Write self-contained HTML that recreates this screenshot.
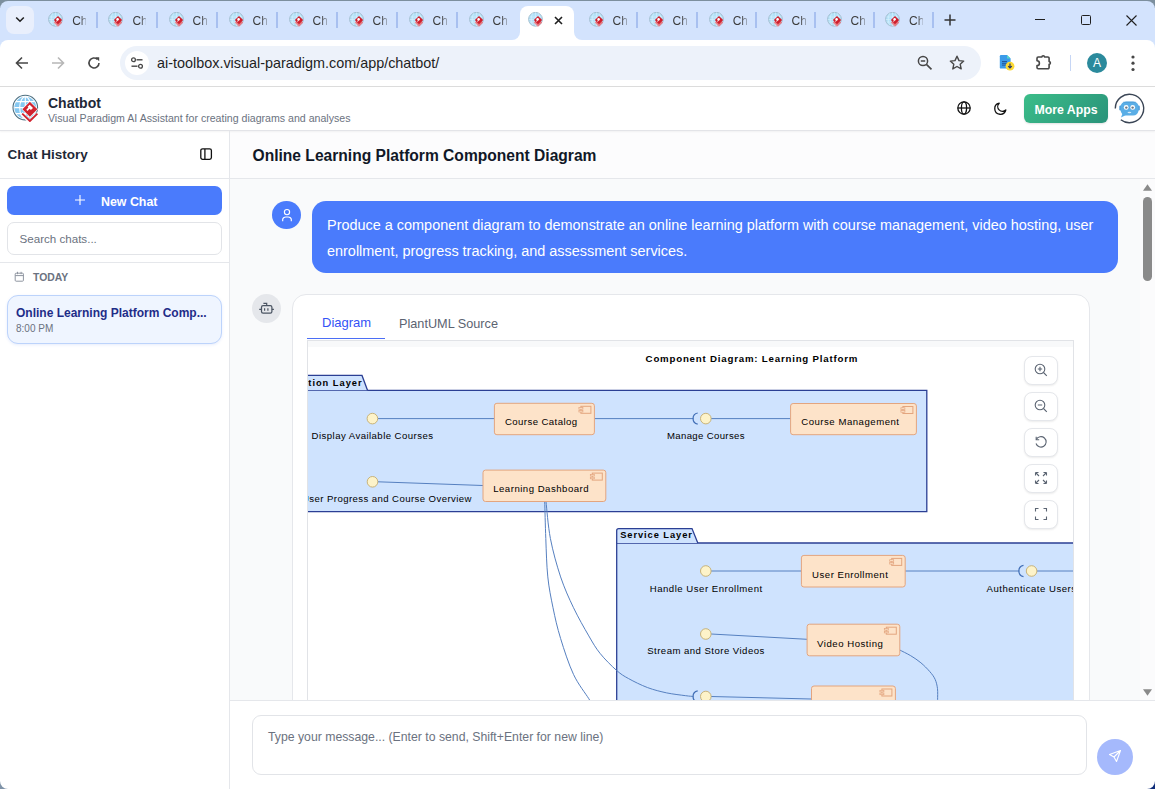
<!DOCTYPE html>
<html><head><meta charset="utf-8">
<style>
*{box-sizing:border-box;margin:0;padding:0}
html,body{width:1155px;height:789px;overflow:hidden}
body{position:relative;background:#d3e3fd;font-family:"Liberation Sans",sans-serif;color:#1f1f1f}
.a{position:absolute}
svg{display:block}
/* tabs */
.fav{position:absolute;top:12px;width:16px;height:16px}
.tt{position:absolute;top:14px;font-size:12px;color:#3c3c3c;line-height:14px;width:14px;overflow:hidden;white-space:nowrap;-webkit-mask-image:linear-gradient(90deg,#000 55%,rgba(0,0,0,0.35))}
.sep{position:absolute;top:12px;width:1.6px;height:15.5px;background:#a8c0f0}
</style></head>
<body>
<svg width="0" height="0" style="position:absolute">
 <defs>
  <symbol id="vp" viewBox="0 0 28 28">
   <circle cx="13.3" cy="13.6" r="12.3" fill="#fff" stroke="#4d6f80" stroke-width="1.1"/>
   <circle cx="13.3" cy="13.6" r="10.9" fill="#86c8f1"/>
   <path d="M2.4 13.6h21.8M4 7.6h18.6M4 19.6h18.6M13.3 2.7v21.8" stroke="#fff" stroke-width="1.1" fill="none"/>
   <ellipse cx="13.3" cy="13.6" rx="5.6" ry="10.9" stroke="#fff" stroke-width="1.1" fill="none"/>
   <path d="M17.9 6.9L26.2 15.2 17.9 23.5 9.6 15.2z" fill="#fff"/>
   <path d="M17.9 7.7L25.4 15.2 17.9 22.7 10.4 15.2z" fill="#d1232f"/>
   <path d="M9.4 19.4L17.9 27.6 26.1 19.4" stroke="#fff" stroke-width="3.6" fill="none"/>
   <path d="M10.2 19.6L17.9 27 25.4 19.6" stroke="#d1232f" stroke-width="1.9" fill="none"/>
   <path d="M17.7 10.7L21 14 18.9 16.1 17.6 14.8 15.5 16.9 14.3 15.7 16.4 13.6 15.6 12.8z" fill="#fff"/>
  </symbol>
 <symbol id="fv" viewBox="0 0 16 16">
   <circle cx="7.5" cy="7.3" r="6.9" fill="#b4e1f8" stroke="#9db9c9" stroke-width="0.9"/>
   <path d="M1.5 5h12M0.8 7.5h13.4M1.5 10h12M7.5 0.6v13.4M4.6 1.3c-1.8 3.3-1.8 8.7 0 12M10.4 1.3c1.8 3.3 1.8 8.7 0 12" stroke="#d9f1fd" stroke-width="0.6" fill="none"/>
   <path d="M5.8 10.6L10 14.8 14.2 10.6 10 6.4z" fill="#e47a84"/>
   <path d="M5.6 10.2L10 14.6" stroke="#f4c4c8" stroke-width="0.5"/>
   <path d="M10 3.9L14.2 8.1 10 12.3 5.8 8.1z" fill="#cf1f2d"/>
   <circle cx="9.6" cy="7.2" r="1.25" fill="#fff"/>
   <path d="M9.6 7.8L8.6 9.6" stroke="#fff" stroke-width="0.9"/>
  </symbol>
 </defs>
</svg>

<!-- ========== BROWSER CHROME ========== -->
<div class="a" style="left:0;top:0;width:1155px;height:1px;background:#7c8f9e"></div>
<div class="a" style="left:0;top:0;width:8px;height:8px;background:#7c8f9e"></div>
<div class="a" style="left:0;top:1px;width:8px;height:8px;background:#d3e3fd;border-top-left-radius:8px"></div>
<div class="a" style="left:1147px;top:0;width:8px;height:8px;background:#7c8f9e"></div>
<div class="a" style="left:1147px;top:1px;width:8px;height:8px;background:#d3e3fd;border-top-right-radius:8px"></div>

<!-- tab search -->
<div class="a" style="left:6px;top:6px;width:28px;height:28px;border-radius:8px;background:#e9effc"></div>
<svg class="a" style="left:15px;top:16px" width="10" height="7" viewBox="0 0 10 7"><path d="M1.2 1.5L5 5.2 8.8 1.5" stroke="#1f1f1f" stroke-width="1.6" fill="none"/></svg>


<svg class="fav" viewBox="0 0 16 16" style="left:48.2px"><use href="#fv"/></svg><div class="tt" style="left:72.2px">Ch</div>
<svg class="fav" viewBox="0 0 16 16" style="left:108.4px"><use href="#fv"/></svg><div class="tt" style="left:132.4px">Ch</div>
<svg class="fav" viewBox="0 0 16 16" style="left:168.6px"><use href="#fv"/></svg><div class="tt" style="left:192.6px">Ch</div>
<svg class="fav" viewBox="0 0 16 16" style="left:228.6px"><use href="#fv"/></svg><div class="tt" style="left:252.6px">Ch</div>
<svg class="fav" viewBox="0 0 16 16" style="left:288.6px"><use href="#fv"/></svg><div class="tt" style="left:312.6px">Ch</div>
<svg class="fav" viewBox="0 0 16 16" style="left:348.5px"><use href="#fv"/></svg><div class="tt" style="left:372.5px">Ch</div>
<svg class="fav" viewBox="0 0 16 16" style="left:408.5px"><use href="#fv"/></svg><div class="tt" style="left:432.5px">Ch</div>
<svg class="fav" viewBox="0 0 16 16" style="left:468.6px"><use href="#fv"/></svg><div class="tt" style="left:492.6px">Ch</div>
<svg class="fav" viewBox="0 0 16 16" style="left:588.6px"><use href="#fv"/></svg><div class="tt" style="left:612.6px">Ch</div>
<svg class="fav" viewBox="0 0 16 16" style="left:648.6px"><use href="#fv"/></svg><div class="tt" style="left:672.6px">Ch</div>
<svg class="fav" viewBox="0 0 16 16" style="left:708.7px"><use href="#fv"/></svg><div class="tt" style="left:732.7px">Ch</div>
<svg class="fav" viewBox="0 0 16 16" style="left:767.6px"><use href="#fv"/></svg><div class="tt" style="left:791.6px">Ch</div>
<svg class="fav" viewBox="0 0 16 16" style="left:826.6px"><use href="#fv"/></svg><div class="tt" style="left:850.6px">Ch</div>
<svg class="fav" viewBox="0 0 16 16" style="left:885.1px"><use href="#fv"/></svg><div class="tt" style="left:909.1px">Ch</div>
<div class="sep" style="left:96.1px"></div>
<div class="sep" style="left:156.0px"></div>
<div class="sep" style="left:216.2px"></div>
<div class="sep" style="left:276.0px"></div>
<div class="sep" style="left:336.1px"></div>
<div class="sep" style="left:396.0px"></div>
<div class="sep" style="left:456.1px"></div>
<div class="sep" style="left:636.0px"></div>
<div class="sep" style="left:696.2px"></div>
<div class="sep" style="left:755.1px"></div>
<div class="sep" style="left:814.0px"></div>
<div class="sep" style="left:873.1px"></div>
<div class="sep" style="left:932.2px"></div>
<!-- active tab -->
<div class="a" style="left:512px;top:32px;width:8px;height:8px;background:#fff"></div>
<div class="a" style="left:512px;top:32px;width:8px;height:8px;background:#d3e3fd;border-bottom-right-radius:8px"></div>
<div class="a" style="left:574px;top:32px;width:8px;height:8px;background:#fff"></div>
<div class="a" style="left:574px;top:32px;width:8px;height:8px;background:#d3e3fd;border-bottom-left-radius:8px"></div>
<div class="a" style="left:520px;top:6px;width:54px;height:35px;background:#fff;border-radius:8px 8px 0 0"></div>
<svg class="fav" viewBox="0 0 16 16" style="left:528.4px"><use href="#fv"/></svg>
<svg class="a" style="left:554px;top:16px" width="9" height="9" viewBox="0 0 9 9"><path d="M1 1L8 8M8 1L1 8" stroke="#1f1f1f" stroke-width="1.6"/></svg>

<!-- new tab + -->
<svg class="a" style="left:944px;top:14px" width="12" height="12" viewBox="0 0 12 12"><path d="M6 0.5v11M0.5 6h11" stroke="#333" stroke-width="1.5"/></svg>

<!-- window controls -->
<div class="a" style="left:1035px;top:19px;width:10px;height:1.2px;background:#1f1f1f"></div>
<div class="a" style="left:1081px;top:15px;width:10px;height:10px;border:1.1px solid #1f1f1f;border-radius:1.5px"></div>
<svg class="a" style="left:1126px;top:14.5px" width="11" height="11" viewBox="0 0 11 11"><path d="M0.5 0.5L10.5 10.5M10.5 0.5L0.5 10.5" stroke="#1f1f1f" stroke-width="1.1"/></svg>

<!-- toolbar -->
<div class="a" style="left:0;top:40px;width:1155px;height:46px;background:#fff;border-radius:8px 8px 0 0"></div>
<div class="a" style="left:0;top:86px;width:1155px;height:1px;background:#dcdcdc"></div>
<svg class="a" style="left:15px;top:56px" width="14" height="14" viewBox="0 0 14 14"><path d="M13 7H2M7 1.5L1.5 7 7 12.5" stroke="#474747" stroke-width="1.6" fill="none"/></svg>
<svg class="a" style="left:51px;top:56px" width="14" height="14" viewBox="0 0 14 14"><path d="M1 7h11M7 1.5L12.5 7 7 12.5" stroke="#b7b7b7" stroke-width="1.6" fill="none"/></svg>
<svg class="a" style="left:87px;top:56px" width="14" height="14" viewBox="0 0 14 14"><path d="M12 7A5 5 0 1 1 10.5 3.4" stroke="#474747" stroke-width="1.6" fill="none"/><path d="M8.2 1.2h4v4z" fill="#474747"/></svg>

<div class="a" style="left:120px;top:46px;width:861px;height:34px;border-radius:17px;background:#edf2fa"></div>
<div class="a" style="left:125px;top:51px;width:24px;height:24px;border-radius:12px;background:#fff"></div>
<svg class="a" style="left:130px;top:56px" width="14" height="14" viewBox="0 0 14 14"><circle cx="3.5" cy="3.8" r="1.9" stroke="#474747" stroke-width="1.3" fill="none"/><path d="M6.5 3.8h6" stroke="#474747" stroke-width="1.4"/><circle cx="10.5" cy="10.2" r="1.9" stroke="#474747" stroke-width="1.3" fill="none"/><path d="M1.5 10.2h6" stroke="#474747" stroke-width="1.4"/></svg>
<div class="a" style="left:157px;top:54px;font-size:14.4px;line-height:18px;color:#1f1f1f;white-space:nowrap">ai-toolbox.visual-paradigm.com/app/chatbot/</div>
<svg class="a" style="left:917px;top:55.2px" width="16" height="15" viewBox="0 0 16 15"><circle cx="6" cy="6" r="4.6" stroke="#474747" stroke-width="1.5" fill="none"/><path d="M3.8 6h4.4M9.4 9.4L14.5 14.3" stroke="#474747" stroke-width="1.6"/></svg>
<svg class="a" style="left:949px;top:55px" width="16" height="15" viewBox="0 0 16 15"><path d="M8 1.2l2 4.4 4.7.5-3.5 3.2 1 4.6L8 11.5 3.8 13.9l1-4.6L1.3 6.1l4.7-.5z" stroke="#474747" stroke-width="1.4" fill="none" stroke-linejoin="round"/></svg>
<svg class="a" style="left:996px;top:52px" width="20" height="22" viewBox="996 52 20 22"><path d="M1001 55h6l3.6 3.6v8.8a1.2 1.2 0 0 1-1.2 1.2h-8.4a1.2 1.2 0 0 1-1.2-1.2V56.2a1.2 1.2 0 0 1 1.2-1.2z" fill="#3b9be9"/><path d="M1007 55v3.6h3.6z" fill="#54d6c9"/><path d="M1002 61.5h5M1002 63.3h5M1002 65.1h4" stroke="#1f4f91" stroke-width="0.9"/><circle cx="1010" cy="66.2" r="4.4" fill="#fcd934"/><path d="M1010 63.4v4.4M1008.2 66.2l1.8 1.8 1.8-1.8" stroke="#1c2f6b" stroke-width="1.1" fill="none"/></svg>
<svg class="a" style="left:1034px;top:52px" width="20" height="20" viewBox="1034 52 20 20"><path d="M1038.2 57H1041.9a1.3 1.3 0 0 1 2.6 0H1047.9a1.2 1.2 0 0 1 1.2 1.2V61.6a1.3 1.3 0 0 1 0 2.6V67.6a1.2 1.2 0 0 1-1.2 1.2H1038.2a1.2 1.2 0 0 1-1.2-1.2V65.6a2.4 2.4 0 0 0 0-4.8V58.2a1.2 1.2 0 0 1 1.2-1.2z" stroke="#474747" stroke-width="1.6" fill="none" stroke-linejoin="round"/></svg>
<div class="a" style="left:1069.5px;top:55px;width:1.5px;height:16px;background:#c6d6f5"></div>
<div class="a" style="left:1087px;top:53px;width:20px;height:20px;border-radius:10px;background:#2b8a9c;color:#fff;font-size:12px;line-height:20px;text-align:center">A</div>
<svg class="a" style="left:1130px;top:55px" width="6" height="17" viewBox="0 0 6 17"><circle cx="3" cy="2" r="1.6" fill="#474747"/><circle cx="3" cy="8.2" r="1.6" fill="#474747"/><circle cx="3" cy="14.5" r="1.6" fill="#474747"/></svg>

<!-- ========== APP ========== -->
<!-- app header -->
<div class="a" style="left:0;top:87px;width:1155px;height:702px;background:#fff"></div>
<div class="a" style="left:230px;top:131px;width:925px;height:47px;background:#fcfcfd"></div>
<div class="a" style="left:0;top:130px;width:1155px;height:1px;background:#e3e4e8;box-shadow:0 1px 2px rgba(0,0,0,0.07)"></div>
<svg class="a" style="left:12px;top:94px" width="28" height="28" viewBox="0 0 28 28"><use href="#vp"/></svg>
<div class="a" style="left:48px;top:95px;font-size:14px;font-weight:700;color:#1f2937;line-height:16px;white-space:nowrap">Chatbot</div>
<div class="a" style="left:48px;top:112px;font-size:10.6px;color:#6b7280;line-height:12px;white-space:nowrap">Visual Paradigm AI Assistant for creating diagrams and analyses</div>
<svg class="a" style="left:957px;top:101px" width="14" height="14" viewBox="0 0 14 14"><circle cx="7" cy="7" r="6.2" stroke="#111" stroke-width="1.3" fill="none"/><ellipse cx="7" cy="7" rx="2.6" ry="6.2" stroke="#111" stroke-width="1.3" fill="none"/><path d="M0.8 7h12.4" stroke="#111" stroke-width="1.3"/></svg>
<svg class="a" style="left:993px;top:102px" width="14" height="14" viewBox="0 0 14 14"><path d="M6.2 1.2A5.6 5.6 0 1 0 12.8 8 4.4 4.4 0 0 1 6.2 1.2z" stroke="#111" stroke-width="1.3" fill="none" stroke-linejoin="round"/></svg>
<div class="a" style="left:1024px;top:94px;width:84px;height:28.5px;border-radius:6px;background:linear-gradient(135deg,#3bbd89,#2a937a);color:#fff;font-size:12.3px;font-weight:700;line-height:28.5px;padding-top:2px;text-align:center;box-shadow:0 1px 2px rgba(0,0,0,0.12)">More Apps</div>
<svg class="a" style="left:1112px;top:91px" width="36" height="36" viewBox="1112 91 36 36"><path d="M1115.3 108.5A14.2 14.2 0 1 1 1120.8 119.7" stroke="#3b4656" stroke-width="1.4" fill="none"/><rect x="1119.3" y="105.5" width="2.5" height="5" rx="1.2" fill="#4a9ad8"/><rect x="1137.3" y="105.5" width="2.5" height="5" rx="1.2" fill="#4a9ad8"/><path d="M1122.5 113.5L1121 117.6 1126 115z" fill="#5aaee6"/><rect x="1120.6" y="101.4" width="18" height="14.2" rx="5.5" fill="#5aaee6"/><path d="M1123 102.2h13" stroke="#3f8fce" stroke-width="0.8" opacity="0.6"/><circle cx="1126.2" cy="107.4" r="2.4" fill="#fff"/><circle cx="1132.7" cy="107.4" r="2.4" fill="#fff"/><circle cx="1126.3" cy="107.6" r="1.2" fill="#6b7785"/><circle cx="1132.6" cy="107.6" r="1.2" fill="#6b7785"/><ellipse cx="1129.4" cy="112.5" rx="1.9" ry="0.8" fill="#d6ecfa"/></svg>

<!-- sidebar -->
<div class="a" style="left:229px;top:131px;width:1px;height:658px;background:#e5e7eb"></div>
<div class="a" style="left:7.5px;top:147px;font-size:13.5px;font-weight:700;color:#1f2937;line-height:16px;white-space:nowrap">Chat History</div>
<svg class="a" style="left:199.5px;top:147.5px" width="13" height="13" viewBox="0 0 13 13"><rect x="0.8" y="0.8" width="10.6" height="10.6" rx="1.8" stroke="#111" stroke-width="1.3" fill="none"/><path d="M4.9 1v10.5" stroke="#111" stroke-width="1.3"/></svg>
<div class="a" style="left:0;top:178px;width:229px;height:1px;background:#e5e7eb"></div>
<div class="a" style="left:7px;top:186px;width:215px;height:29px;border-radius:7px;background:#4a7bfc"></div>
<svg class="a" style="left:75px;top:195px" width="10" height="10" viewBox="0 0 10 10"><path d="M5 0v10M0 5h10" stroke="#fff" stroke-width="1.1"/></svg>
<div class="a" style="left:101px;top:194.5px;font-size:12.4px;font-weight:700;color:#fff;line-height:15px;white-space:nowrap">New Chat</div>
<div class="a" style="left:7px;top:222px;width:215px;height:33px;border-radius:7px;border:1px solid #e2e4e8;background:#fff"></div>
<div class="a" style="left:19.5px;top:232px;font-size:11.6px;color:#6b7280;line-height:14px;white-space:nowrap">Search chats...</div>
<div class="a" style="left:0;top:262px;width:229px;height:1px;background:#e5e7eb"></div>
<svg class="a" style="left:14px;top:271px" width="11" height="12" viewBox="14 271 11 12"><rect x="15.2" y="273.2" width="8.2" height="8" rx="0.9" stroke="#8f95a0" stroke-width="1" fill="none"/><path d="M15.2 275.6h8.2M17.5 271.8v2.4M21.1 271.8v2.4" stroke="#8f95a0" stroke-width="1"/></svg>
<div class="a" style="left:33px;top:272px;font-size:10.4px;font-weight:700;color:#6b7280;line-height:12px;white-space:nowrap">TODAY</div>
<div class="a" style="left:7px;top:295px;width:215px;height:49px;border-radius:11px;background:#eff5ff;border:1px solid #bcd3fb;box-shadow:0 1px 3px rgba(59,110,240,0.12)"></div>
<div class="a" style="left:16px;top:306px;font-size:12px;font-weight:700;color:#1f2d88;line-height:14px;white-space:nowrap">Online Learning Platform Comp...</div>
<div class="a" style="left:16px;top:323px;font-size:10px;color:#6b7280;line-height:12px;white-space:nowrap">8:00 PM</div>

<!-- main -->
<div class="a" style="left:252.5px;top:147px;font-size:15.6px;font-weight:700;color:#111827;line-height:18px;white-space:nowrap">Online Learning Platform Component Diagram</div>
<div class="a" style="left:230px;top:178px;width:925px;height:1px;background:#e5e7eb"></div>
<div class="a" style="left:0;top:0;width:1155px;height:789px;clip-path:inset(179px 0 89px 230px)">
<div class="a" style="left:230px;top:179px;width:925px;height:521px;background:#f9fafb"></div>
<!-- user msg -->
<div class="a" style="left:272px;top:200.8px;width:28.8px;height:28px;border-radius:50%;background:#4a7bfc"></div>
<svg class="a" style="left:280px;top:207px" width="14" height="16" viewBox="280 207 14 16"><circle cx="287" cy="212.1" r="2.6" stroke="#fff" stroke-width="1.15" fill="none"/><path d="M282.7 221.2v-1.6a3.2 2.6 0 0 1 3.2-2.6h2.2a3.2 2.6 0 0 1 3.2 2.6v1.6" stroke="#fff" stroke-width="1.15" fill="none"/></svg>
<div class="a" style="left:312px;top:201px;width:806px;height:72px;border-radius:14px;background:#4a7bfc;color:#fff;font-size:14.45px;line-height:26px;padding:10.6px 15px 0 15px">Produce a component diagram to demonstrate an online learning platform with course management, video hosting, user enrollment, progress tracking, and assessment services.</div>
<!-- bot -->
<div class="a" style="left:252px;top:294px;width:29px;height:29px;border-radius:50%;background:#e5e7eb"></div>
<svg class="a" style="left:257px;top:300px" width="18" height="16" viewBox="257 300 18 16"><rect x="261.5" y="305.6" width="10.4" height="7.6" rx="1.6" stroke="#4b5563" stroke-width="1.25" fill="none"/><path d="M263.4 303.3H266.7V305.4" stroke="#4b5563" stroke-width="1.2" fill="none"/><path d="M259.2 309.4h2M271.9 309.4h2M264.6 308.2v2.6M267.9 308.2v2.6" stroke="#4b5563" stroke-width="1.2"/></svg>
<div class="a" style="left:292px;top:294px;width:798px;height:460px;border-radius:14px;background:#fff;border:1px solid #e5e7eb"></div>
<div class="a" style="left:322px;top:315px;font-size:13px;color:#3553f6;line-height:15px;white-space:nowrap">Diagram</div>
<div class="a" style="left:399px;top:316.8px;font-size:12.7px;color:#5b6371;line-height:15px;white-space:nowrap">PlantUML Source</div>
<div class="a" style="left:307px;top:339.5px;width:767px;height:1.5px;background:#e1e3e7"></div>
<div class="a" style="left:307px;top:337.6px;width:78px;height:1.6px;background:#4b6ef5"></div>
<svg class="a" style="left:307px;top:341px" width="766" height="359" viewBox="307 341 766 359">
<style>text{font-family:"Liberation Sans",sans-serif;fill:#000}.n{font-size:9.6px}.b{font-size:9.3px;font-weight:700}.t{font-size:9.7px;font-weight:700}</style>
<rect x="307" y="341" width="766" height="6" fill="#f8f9fa"/><rect x="307" y="347" width="766" height="400" fill="#fff"/>
<text x="645.6" y="362.3" class="t" textLength="211.8" lengthAdjust="spacing">Component Diagram: Learning Platform</text>
<path d="M230 390.3 V 511.7 H 926.8 V 390.3 Z" fill="#cfe3fe" stroke="#2b3f94" stroke-width="1.3"/>
<path d="M230 390.3 V 377.4 Q 230 375.4 232 375.4 H 362 L 367.5 390.3" fill="#cfe3fe" stroke="#2b3f94" stroke-width="1.3"/>
<text x="308.3" y="385.9" class="b" textLength="53.3" lengthAdjust="spacing">tion Layer</text>
<path d="M616.7 543 V 760 H 1200 V 543 Z" fill="#cfe3fe" stroke="#2b3f94" stroke-width="1.3"/>
<path d="M616.7 543 V 530.6 Q 616.7 528.6 618.7 528.6 H 692 L 697.8 543" fill="#cfe3fe" stroke="#2b3f94" stroke-width="1.3"/>
<text x="620.2" y="538.2" class="b" textLength="71.7" lengthAdjust="spacing">Service Layer</text>
<path d="M378 418.6 H 494.4" fill="none" stroke="#5680c0" stroke-width="1"/>
<path d="M594.4 418.6 H 693.4" fill="none" stroke="#5680c0" stroke-width="1"/>
<path d="M711.1 418.6 H 790.6" fill="none" stroke="#5680c0" stroke-width="1"/>
<path d="M378 481.8 L 483 485.5" fill="none" stroke="#5680c0" stroke-width="1"/>
<path d="M711.1 571 H 801.4" fill="none" stroke="#5680c0" stroke-width="1"/>
<path d="M905.2 571 H 1019.3" fill="none" stroke="#5680c0" stroke-width="1"/>
<path d="M1036.9 571 H 1080" fill="none" stroke="#5680c0" stroke-width="1"/>
<path d="M711.1 634 L 807.1 639.3" fill="none" stroke="#5680c0" stroke-width="1"/>
<path d="M711.1 696.5 L 811.5 699" fill="none" stroke="#5680c0" stroke-width="1"/>
<path d="M544.7 501.5 C544.9 507.7 545.3 525.9 545.8 538.5 C546.3 551.1 546.6 565.4 547.8 576.9 C549.0 588.4 550.9 597.4 553.0 607.7 C555.1 618.0 557.2 627.4 560.6 638.5 C564.0 649.6 568.8 664.4 573.5 674.4 C578.2 684.4 585.8 693.8 588.8 698.7 C591.8 703.6 591.1 703.1 591.6 704.0" fill="none" stroke="#5680c0" stroke-width="1"/>
<path d="M546 501.5 C546.7 507.7 548.0 525.9 550.4 538.5 C552.8 551.1 556.8 565.4 560.6 576.9 C564.5 588.4 568.8 597.9 573.5 607.7 C578.2 617.5 584.4 628.3 588.8 635.9 C593.2 643.5 595.4 647.5 600.0 653.3 C604.6 659.1 611.9 666.3 616.7 670.5 C621.5 674.7 623.5 675.8 628.6 678.6 C633.8 681.5 641.2 685.2 647.6 687.6 C654.0 690.0 660.4 691.5 666.7 692.9 C673.1 694.2 681.3 695.1 685.7 695.7 C690.1 696.3 692.0 696.3 693.3 696.4" fill="none" stroke="#5680c0" stroke-width="1"/>
<path d="M899.8 650 C901.6 651.0 907.2 653.6 910.7 655.7 C914.2 657.8 917.8 660.2 920.9 662.8 C924.0 665.4 927.2 668.6 929.6 671.4 C932.0 674.1 933.8 676.4 935.1 679.3 C936.4 682.2 937.1 685.3 937.5 688.7 C937.9 692.1 937.6 697.0 937.6 699.7 C937.6 702.4 937.6 704.1 937.6 705.0" fill="none" stroke="#5680c0" stroke-width="1"/>
<rect x="494.4" y="403.3" width="100" height="31.4" rx="2.5" fill="#fde3c9" stroke="#e3a57f" stroke-width="1"/>
<text x="505.0" y="424.9" class="n" textLength="72.1" lengthAdjust="spacing">Course Catalog</text>
<rect x="580.9" y="406.3" width="10" height="7" fill="none" stroke="#e3a57f" stroke-width="1"/>
<rect x="578.9" y="407.6" width="4" height="1.6" fill="#fde3c9" stroke="#e3a57f" stroke-width="0.7"/>
<rect x="578.9" y="410.4" width="4" height="1.6" fill="#fde3c9" stroke="#e3a57f" stroke-width="0.7"/>
<rect x="790.6" y="403.5" width="125.8" height="31.2" rx="2.5" fill="#fde3c9" stroke="#e3a57f" stroke-width="1"/>
<text x="801.2" y="424.9" class="n" textLength="97.8" lengthAdjust="spacing">Course Management</text>
<rect x="902.9" y="406.5" width="10" height="7" fill="none" stroke="#e3a57f" stroke-width="1"/>
<rect x="900.9" y="407.8" width="4" height="1.6" fill="#fde3c9" stroke="#e3a57f" stroke-width="0.7"/>
<rect x="900.9" y="410.6" width="4" height="1.6" fill="#fde3c9" stroke="#e3a57f" stroke-width="0.7"/>
<rect x="483" y="470.1" width="122.8" height="31.4" rx="2.5" fill="#fde3c9" stroke="#e3a57f" stroke-width="1"/>
<text x="493.2" y="491.9" class="n" textLength="95.4" lengthAdjust="spacing">Learning Dashboard</text>
<rect x="592.3" y="473.1" width="10" height="7" fill="none" stroke="#e3a57f" stroke-width="1"/>
<rect x="590.3" y="474.4" width="4" height="1.6" fill="#fde3c9" stroke="#e3a57f" stroke-width="0.7"/>
<rect x="590.3" y="477.2" width="4" height="1.6" fill="#fde3c9" stroke="#e3a57f" stroke-width="0.7"/>
<rect x="801.4" y="555.4" width="103.8" height="31.6" rx="2.5" fill="#fde3c9" stroke="#e3a57f" stroke-width="1"/>
<text x="812.1" y="577.7" class="n" textLength="75.7" lengthAdjust="spacing">User Enrollment</text>
<rect x="891.7" y="558.4" width="10" height="7" fill="none" stroke="#e3a57f" stroke-width="1"/>
<rect x="889.7" y="559.7" width="4" height="1.6" fill="#fde3c9" stroke="#e3a57f" stroke-width="0.7"/>
<rect x="889.7" y="562.5" width="4" height="1.6" fill="#fde3c9" stroke="#e3a57f" stroke-width="0.7"/>
<rect x="807.1" y="624.2" width="92.7" height="31.6" rx="2.5" fill="#fde3c9" stroke="#e3a57f" stroke-width="1"/>
<text x="817.1" y="646.7" class="n" textLength="65.8" lengthAdjust="spacing">Video Hosting</text>
<rect x="886.3" y="627.2" width="10" height="7" fill="none" stroke="#e3a57f" stroke-width="1"/>
<rect x="884.3" y="628.5" width="4" height="1.6" fill="#fde3c9" stroke="#e3a57f" stroke-width="0.7"/>
<rect x="884.3" y="631.3" width="4" height="1.6" fill="#fde3c9" stroke="#e3a57f" stroke-width="0.7"/>
<rect x="811.5" y="686" width="83.9" height="31.6" rx="2.5" fill="#fde3c9" stroke="#e3a57f" stroke-width="1"/>
<rect x="881.9" y="689.0" width="10" height="7" fill="none" stroke="#e3a57f" stroke-width="1"/>
<rect x="879.9" y="690.3" width="4" height="1.6" fill="#fde3c9" stroke="#e3a57f" stroke-width="0.7"/>
<rect x="879.9" y="693.1" width="4" height="1.6" fill="#fde3c9" stroke="#e3a57f" stroke-width="0.7"/>
<circle cx="372.4" cy="418.6" r="5.3" fill="#fdf3c9" stroke="#c4ad6e" stroke-width="0.9"/>
<text x="311.6" y="439.3" class="n" textLength="121.4" lengthAdjust="spacing">Display Available Courses</text>
<circle cx="705.8" cy="418.6" r="5.3" fill="#fdf3c9" stroke="#c4ad6e" stroke-width="0.9"/>
<path d="M697.7 413.0 A 5.7 5.7 0 0 0 697.7 424.2" fill="none" stroke="#3f6db5" stroke-width="1.2"/>
<text x="667.0" y="439.1" class="n" textLength="77.5" lengthAdjust="spacing">Manage Courses</text>
<circle cx="372.5" cy="481.8" r="5.3" fill="#fdf3c9" stroke="#c4ad6e" stroke-width="0.9"/>
<text x="302.0" y="501.5" class="n" textLength="169.5" lengthAdjust="spacing">User Progress and Course Overview</text>
<circle cx="705.8" cy="571" r="5.3" fill="#fdf3c9" stroke="#c4ad6e" stroke-width="0.9"/>
<text x="649.7" y="591.7" class="n" textLength="112.5" lengthAdjust="spacing">Handle User Enrollment</text>
<circle cx="1031.6" cy="571" r="5.3" fill="#fdf3c9" stroke="#c4ad6e" stroke-width="0.9"/>
<path d="M1023.5 565.4 A 5.7 5.7 0 0 0 1023.5 576.6" fill="none" stroke="#3f6db5" stroke-width="1.2"/>
<text x="986.5" y="591.7" class="n" textLength="89.5" lengthAdjust="spacing">Authenticate Users</text>
<circle cx="705.8" cy="634" r="5.3" fill="#fdf3c9" stroke="#c4ad6e" stroke-width="0.9"/>
<text x="647.2" y="653.5" class="n" textLength="117.1" lengthAdjust="spacing">Stream and Store Videos</text>
<circle cx="705.8" cy="696.5" r="5.3" fill="#fdf3c9" stroke="#c4ad6e" stroke-width="0.9"/>
<path d="M697.7 690.9 A 5.7 5.7 0 0 0 697.7 702.1" fill="none" stroke="#3f6db5" stroke-width="1.2"/>
</svg>
<div class="a" style="left:306.5px;top:341px;width:1px;height:400px;background:#e1e3e7"></div>
<div class="a" style="left:1073px;top:341px;width:1px;height:400px;background:#e1e3e7"></div>
<!-- zoom controls -->
<div class="a" style="left:1024px;top:356px;width:34px;height:28.5px;border-radius:8px;background:#fff;border:1px solid #e5e7eb;box-shadow:0 1px 2px rgba(0,0,0,0.08)"></div>
<div class="a" style="left:1024px;top:392px;width:34px;height:28.5px;border-radius:8px;background:#fff;border:1px solid #e5e7eb;box-shadow:0 1px 2px rgba(0,0,0,0.08)"></div>
<div class="a" style="left:1024px;top:428px;width:34px;height:28.5px;border-radius:8px;background:#fff;border:1px solid #e5e7eb;box-shadow:0 1px 2px rgba(0,0,0,0.08)"></div>
<div class="a" style="left:1024px;top:464px;width:34px;height:28.5px;border-radius:8px;background:#fff;border:1px solid #e5e7eb;box-shadow:0 1px 2px rgba(0,0,0,0.08)"></div>
<div class="a" style="left:1024px;top:500px;width:34px;height:28.5px;border-radius:8px;background:#fff;border:1px solid #e5e7eb;box-shadow:0 1px 2px rgba(0,0,0,0.08)"></div>
<svg class="a" style="left:1034px;top:363px" width="14" height="14" viewBox="0 0 14 14"><circle cx="6" cy="6" r="4.8" stroke="#5b6472" stroke-width="1.1" fill="none"/><path d="M6 3.8v4.4M3.8 6h4.4M9.5 9.5L12.8 12.8" stroke="#5b6472" stroke-width="1.1"/></svg>
<svg class="a" style="left:1034px;top:399px" width="14" height="14" viewBox="0 0 14 14"><circle cx="6" cy="6" r="4.8" stroke="#5b6472" stroke-width="1.1" fill="none"/><path d="M3.8 6h4.4M9.5 9.5L12.8 12.8" stroke="#5b6472" stroke-width="1.1"/></svg>
<svg class="a" style="left:1034px;top:435px" width="14" height="14" viewBox="0 0 14 14"><path d="M2.3 4.5A5.2 5.2 0 1 1 2 8.5" stroke="#5b6472" stroke-width="1.1" fill="none"/><path d="M2.2 1.8v3h3" stroke="#5b6472" stroke-width="1.1" fill="none"/></svg>
<svg class="a" style="left:1034px;top:471px" width="14" height="14" viewBox="0 0 14 14"><path d="M1.5 1.5l3.5 3.5M1.5 1.5v3M1.5 1.5h3M12.5 1.5L9 5M12.5 1.5v3M12.5 1.5h-3M1.5 12.5L5 9M1.5 12.5v-3M1.5 12.5h3M12.5 12.5L9 9M12.5 12.5v-3M12.5 12.5h-3" stroke="#5b6472" stroke-width="1.1" fill="none"/></svg>
<svg class="a" style="left:1034px;top:507px" width="14" height="14" viewBox="0 0 14 14"><path d="M1.5 4.5v-3h3M9.5 1.5h3v3M12.5 9.5v3h-3M4.5 12.5h-3v-3" stroke="#5b6472" stroke-width="1.1" fill="none"/></svg>
<!-- scrollbar -->
<div class="a" style="left:1140px;top:179px;width:15px;height:521px;background:#fbfbfc"></div>
<svg class="a" style="left:1142px;top:183px" width="11" height="9" viewBox="0 0 11 9"><path d="M1 7.8L5.5 1.2 10 7.8z" fill="#8a8a8a"/></svg>
<div class="a" style="left:1143px;top:197px;width:9px;height:84px;border-radius:4.5px;background:#8a8a8a"></div>
<svg class="a" style="left:1142px;top:688px" width="11" height="9" viewBox="0 0 11 9"><path d="M1 1.2L5.5 7.8 10 1.2z" fill="#8a8a8a"/></svg>
</div>
<!-- input -->
<div class="a" style="left:230px;top:700px;width:925px;height:1px;background:#e5e7eb"></div>
<div class="a" style="left:252px;top:715px;width:834.5px;height:60px;border-radius:9px;border:1px solid #e2e4e8;background:#fff"></div>
<div class="a" style="left:268px;top:730px;font-size:12.25px;color:#6b7280;line-height:14px;white-space:nowrap">Type your message... (Enter to send, Shift+Enter for new line)</div>
<div class="a" style="left:1097px;top:739px;width:36px;height:36px;border-radius:50%;background:#a5b9fc"></div>
<svg class="a" style="left:1108px;top:749px" width="14" height="14" viewBox="0 0 14 14"><path d="M12.5 1.5L1.5 5.5 6 8 8.5 12.5z M12.5 1.5L6 8" stroke="#fff" stroke-width="1.1" fill="none" stroke-linejoin="round"/></svg>
<!-- bottom corners -->
<div class="a" style="left:0;top:781px;width:8px;height:8px;background:#7f93a8"></div>
<div class="a" style="left:0;top:781px;width:8px;height:8px;background:#fff;border-bottom-left-radius:8px"></div>
<div class="a" style="left:1147px;top:781px;width:8px;height:8px;background:#0f2d7a"></div>
<div class="a" style="left:1147px;top:781px;width:8px;height:8px;background:#fff;border-bottom-right-radius:8px"></div>


<script>
// tabs generation placeholder (replaced by static markup later)
</script>
</body></html>
